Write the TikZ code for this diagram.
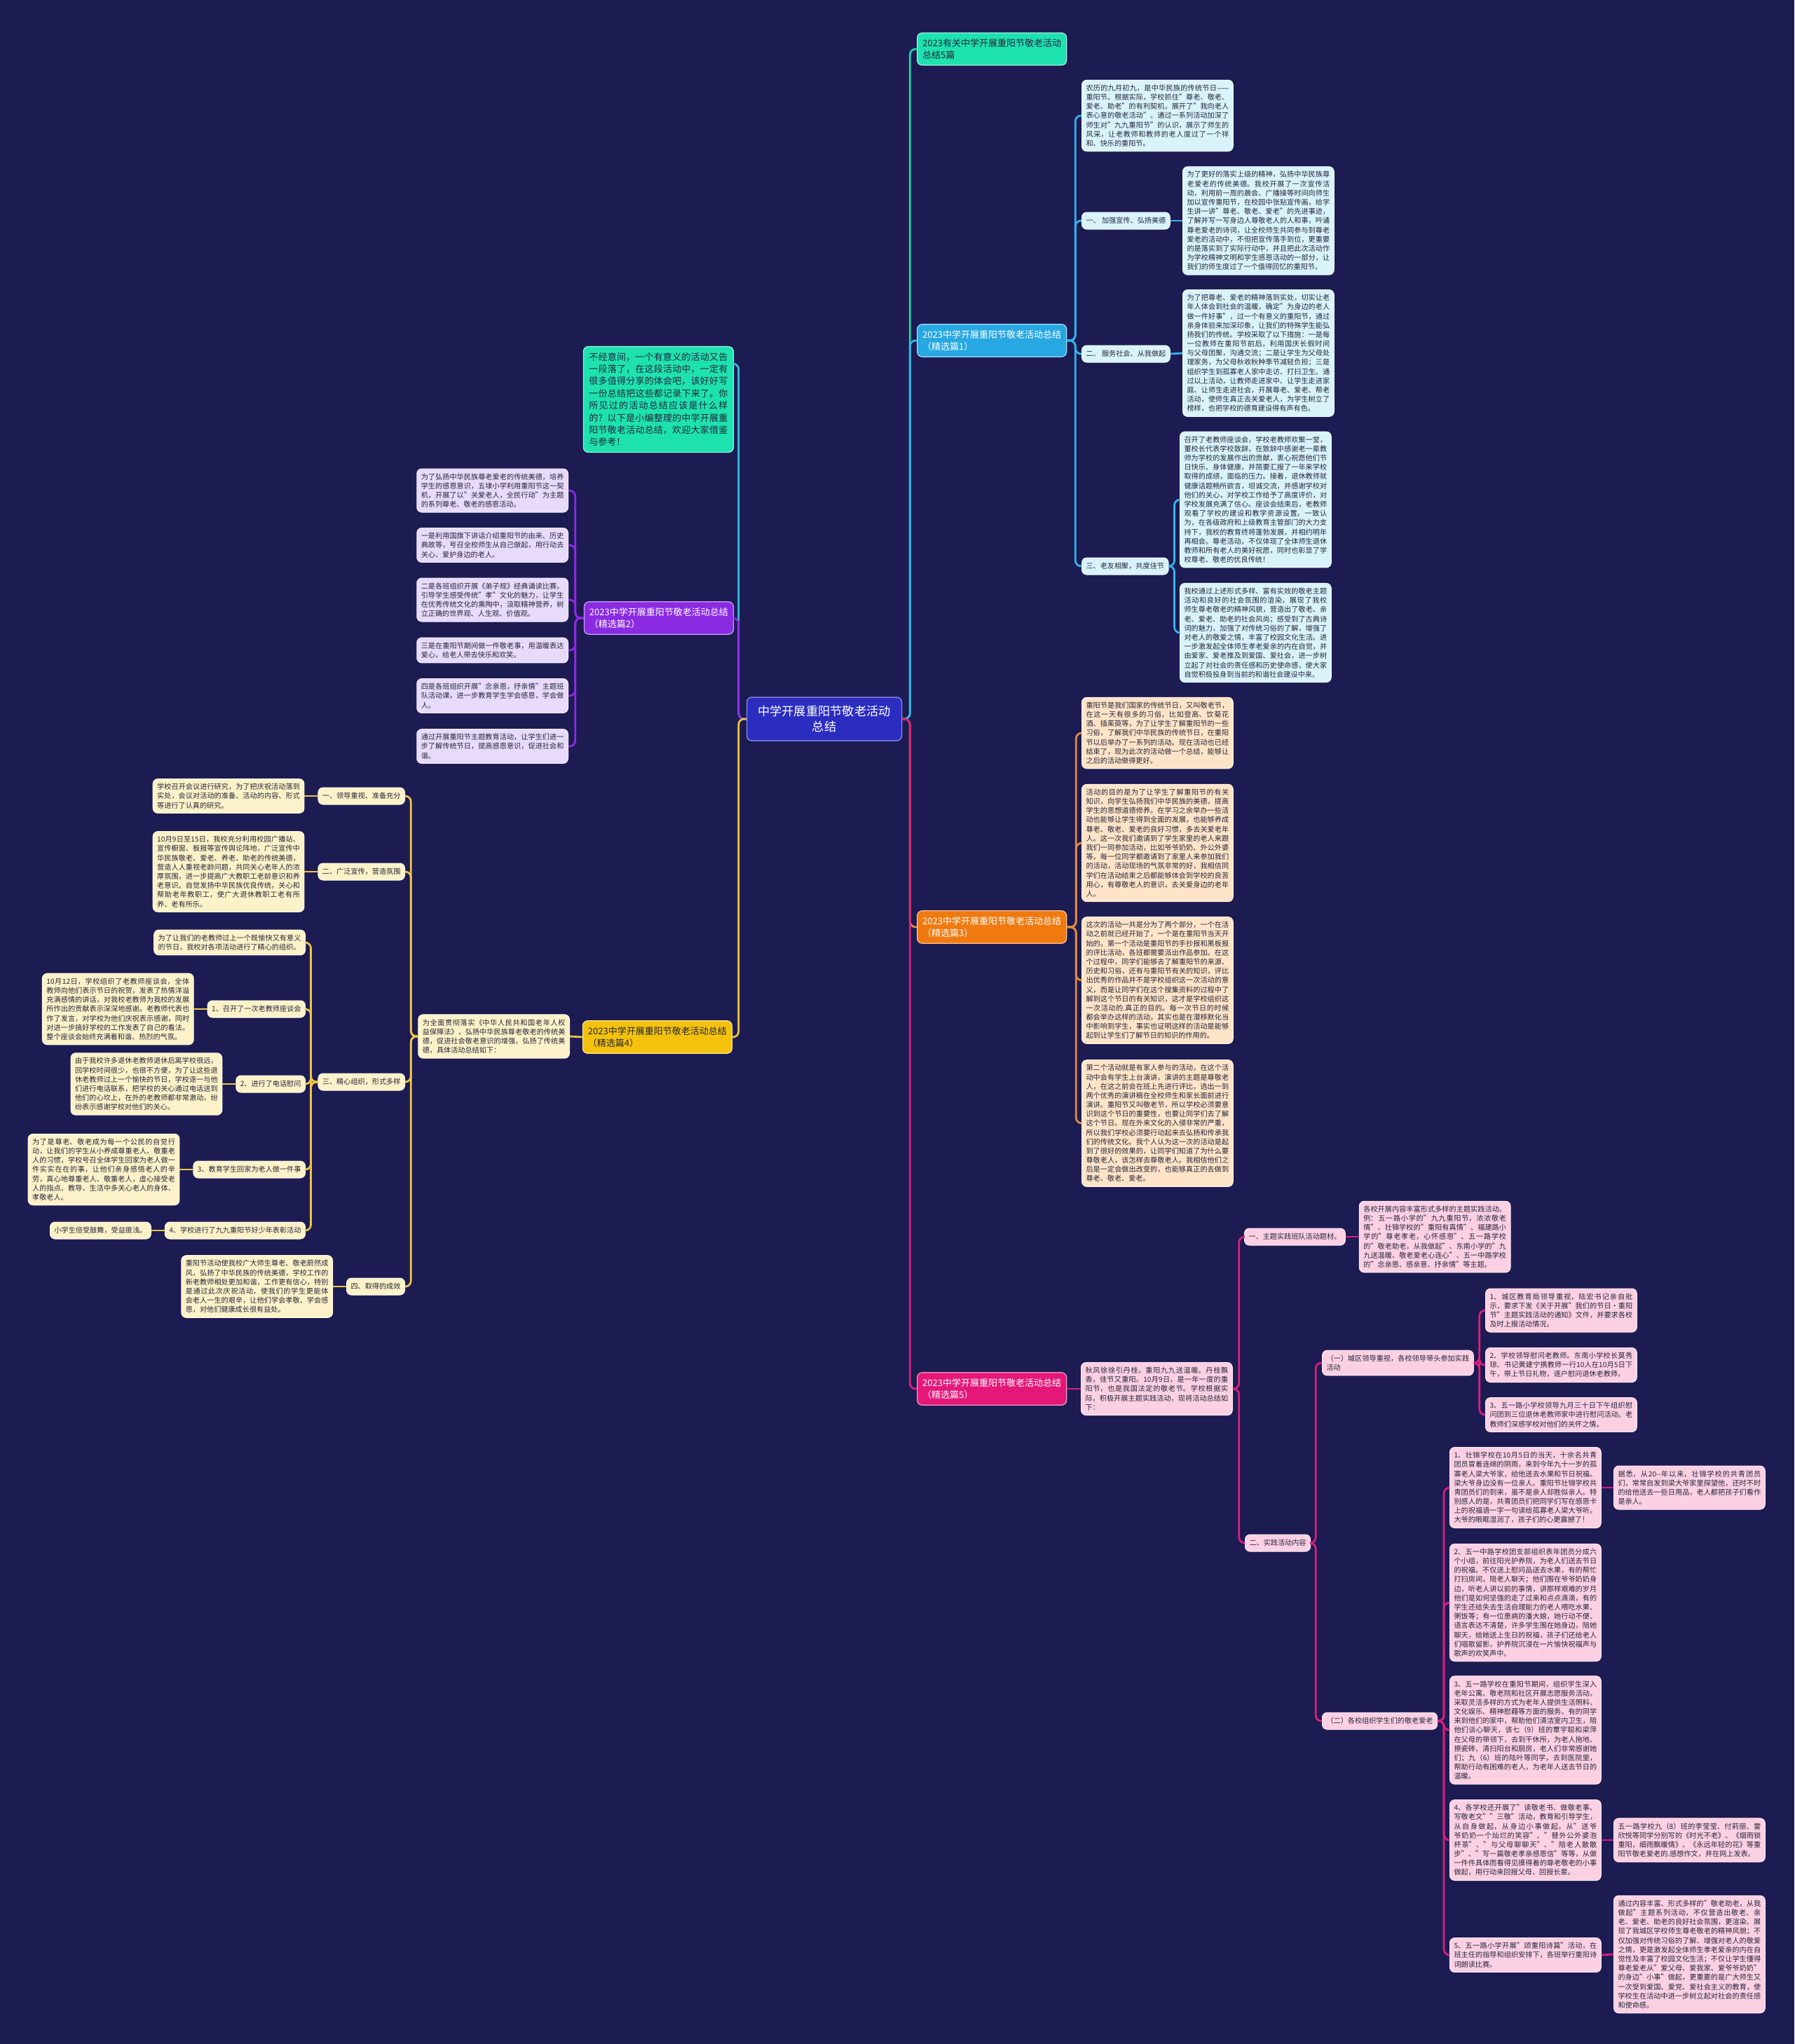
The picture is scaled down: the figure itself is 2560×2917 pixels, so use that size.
\documentclass[tikz,border=0pt]{standalone}
\usepackage{fontspec}
\setmainfont{Noto Sans CJK SC}
\XeTeXlinebreaklocale "zh"
\XeTeXlinebreakskip = 0pt plus 1pt
\usetikzlibrary{positioning}

\definecolor{bgnavy}{HTML}{1C1B52}
\definecolor{rootblue}{HTML}{2B2DC0}
\definecolor{tealA}{HTML}{1DE2B0}
\definecolor{cyanB}{HTML}{27A8E2}
\definecolor{purpB}{HTML}{8A2BE2}
\definecolor{orngB}{HTML}{F07A10}
\definecolor{yellB}{HTML}{F4C20D}
\definecolor{pinkB}{HTML}{E5187A}
\definecolor{lineT}{HTML}{1DD6A6}
\definecolor{lineI}{HTML}{2EC4DC}
\definecolor{lineC}{HTML}{33B5EC}
\definecolor{lineO}{HTML}{E38A40}
\definecolor{lineY}{HTML}{EDC545}
\definecolor{lineP}{HTML}{DA1F7D}
\definecolor{cyanL}{HTML}{D9F3FB}
\definecolor{purpL}{HTML}{E7DAFA}
\definecolor{orngL}{HTML}{FDE4C8}
\definecolor{yellL}{HTML}{FCF2C9}
\definecolor{pinkL}{HTML}{FBD0E3}
\definecolor{inkdark}{HTML}{26263A}

\newcommand\leaffont{\fontsize{5.77pt}{7.5pt}\selectfont}
\newcommand\hubfont{\fontsize{7.4pt}{9.7pt}\selectfont}
\newcommand\introfont{\fontsize{7.4pt}{9.9pt}\selectfont}
\newcommand\rootfont{\fontsize{9.8pt}{12.5pt}\selectfont}

\begin{document}
\begin{tikzpicture}[x=0.2mm,y=-0.2mm,
  leafbox/.style={fill=#1, draw=white!60!#1, line width=0.2mm, rounded corners=1.4mm,
    inner xsep=1.2mm, inner ysep=1.3mm, text width=40.75mm, align=justify,
    font=\leaffont, text=inkdark},
  tagbox/.style={fill=#1, draw=white!60!#1, line width=0.2mm, rounded corners=1.4mm,
    inner xsep=1.2mm, inner ysep=0.8mm, minimum height=4.8mm, font=\leaffont, text=inkdark},
  hubbox/.style={fill=#1, draw=white!55!#1, line width=0.25mm, rounded corners=1.4mm,
    inner xsep=1.4mm, inner ysep=1.7mm, minimum width=42.6mm, align=left,
    font=\hubfont, text=white},
  introbox/.style={fill=tealA, draw=white!55!tealA, line width=0.25mm, rounded corners=1.4mm,
    inner xsep=1.6mm, inner ysep=1.7mm, text width=39.6mm, align=justify,
    font=\introfont, text=inkdark},
  rootbox/.style={fill=rootblue, draw=white!40!rootblue, line width=0.3mm, rounded corners=1.4mm,
    minimum width=44.2mm, minimum height=12.4mm, align=center, font=\rootfont, text=white},
  wire/.style={draw=#1, line width=0.55mm, rounded corners=1.6mm},
]
\useasboundingbox (0,0) rectangle (2560,2917);
\fill[bgnavy] (0,0) rectangle (2560,2917);

% centre and main branches
\node[rootbox] (root) at (1176,1026) {中学开展重阳节敬老活动\\总结};
\node[hubbox=tealA, text=inkdark, anchor=west] (b0) at (1308,70) {2023有关中学开展重阳节敬老活动\\总结5篇};
\node[hubbox=cyanB, anchor=west] (b1) at (1308,486) {2023中学开展重阳节敬老活动总结\\（精选篇1）};
\node[hubbox=orngB, anchor=west] (b3) at (1308,1323) {2023中学开展重阳节敬老活动总结\\（精选篇3）};
\node[hubbox=pinkB, anchor=west] (b5) at (1308,1982) {2023中学开展重阳节敬老活动总结\\（精选篇5）};
\node[introbox, anchor=east] (intro) at (1047,570) {不经意间，一个有意义的活动又告一段落了，在这段活动中，一定有很多值得分享的体会吧，该好好写一份总结把这些都记录下来了。你所见过的活动总结应该是什么样的？以下是小编整理的中学开展重阳节敬老活动总结，欢迎大家借鉴与参考！};
\coordinate (introIn) at (1047,519);
\node[hubbox=purpB, anchor=east] (b2) at (1047,882) {2023中学开展重阳节敬老活动总结\\（精选篇2）};
\node[hubbox=yellB, text=inkdark, anchor=east] (b4) at (1045,1480) {2023中学开展重阳节敬老活动总结\\（精选篇4）};

\draw[wire=lineT] (root.east) -- ++(11,0) |- (b0.west);
\draw[wire=lineC] (root.east) -- ++(11,0) |- (b1.west);
\draw[wire=lineO] (root.east) -- ++(11,0) |- (b3.west);
\draw[wire=lineP] (root.east) -- ++(11,0) |- (b5.west);
\draw[wire=lineI] (root.west) -- ++(-11,0) |- (introIn);
\draw[wire=purpB] (root.west) -- ++(-11,0) |- (b2.east);
\draw[wire=lineY] (root.west) -- ++(-11,0) |- (b4.east);

% branch 1
\node[leafbox=cyanL, anchor=west] (b1a) at (1543,165) {农历的九月初九，是中华民族的传统节日——重阳节。根据实际，学校抓住"尊老、敬老、爱老、助老"的有利契机，展开了"我向老人表心意的敬老活动"。通过一系列活动加深了师生对"九九重阳节"的认识，展示了师生的风采，让老教师和教师的老人度过了一个祥和、快乐的重阳节。};
\node[tagbox=cyanL, anchor=west] (s1l) at (1543,315) {一、 加强宣传、弘扬美德};
\node[leafbox=cyanL, anchor=west] (s1t) at (1687,315) {为了更好的落实上级的精神，弘扬中华民族尊老爱老的传统美德。我校开展了一次宣传活动，利用前一周的晨会、广播操等时间向师生加以宣传重阳节，在校园中张贴宣传画，给学生讲一讲"尊老、敬老、爱老"的先进事迹，了解并写一写身边人尊敬老人的人和事，吟诵尊老爱老的诗词，让全校师生共同参与到尊老爱老的活动中，不但把宣传落手到位，更重要的是落实到了实际行动中，并且把此次活动作为学校精神文明和学生感恩活动的一部分，让我们的师生度过了一个值得回忆的重阳节。};
\node[tagbox=cyanL, anchor=west] (s2l) at (1543,505) {二、 服务社会、从我做起};
\node[leafbox=cyanL, anchor=west] (s2t) at (1687,504) {为了把尊老、爱老的精神落到实处，切实让老年人体会到社会的温暖，确定"为身边的老人做一件好事"，过一个有意义的重阳节，通过亲身体验来加深印象，让我们的特殊学生能弘扬我们的传统。学校采取了以下措施：一是每一位教师在重阳节前后，利用国庆长假时间与父母团聚，沟通交流；二是让学生为父母处理家务，为父母秋收秋种季节减轻负担；三是组织学生到孤寡老人家中走访、打扫卫生。通过以上活动，让教师走进家中、让学生走进家庭、让师生走进社会，开展尊老、爱老、帮老活动，使师生真正去关爱老人，为学生树立了榜样，也把学校的德育建设得有声有色。};
\node[tagbox=cyanL, anchor=west] (s3l) at (1543,808) {三、老友相聚，共度佳节};
\node[leafbox=cyanL, anchor=west] (s3a) at (1683,713) {召开了老教师座谈会，学校老教师欢聚一堂，董校长代表学校致辞，在致辞中感谢老一辈教师为学校的发展作出的贡献，衷心祝愿他们节日快乐、身体健康，并简要汇报了一年来学校取得的成绩，面临的压力。接着，退休教师就健康话题畅所欲言，坦诚交流，并感谢学校对他们的关心，对学校工作给予了高度评价，对学校发展充满了信心。座谈会结束后，老教师观看了学校的建设和教学资源设置。一致认为，在各级政府和上级教育主管部门的大力支持下，我校的教育终将蓬勃发展，并相约明年再相会。尊老活动，不仅体现了全体师生退休教师和所有老人的美好祝愿，同时也彰显了学校尊老、敬老的优良传统！};
\node[leafbox=cyanL, anchor=west] (s3b) at (1683,903) {我校通过上述形式多样、富有实效的敬老主题活动和良好的社会氛围的渲染，展现了我校师生尊老敬老的精神风貌，营造出了敬老、亲老、爱老、助老的社会风尚；感受到了古典诗词的魅力，加强了对传统习俗的了解，增强了对老人的敬爱之情，丰富了校园文化生活。进一步激发起全体师生孝老爱亲的内在自觉，并由爱家、爱老推及到爱国、爱社会，进一步树立起了对社会的责任感和历史使命感，使大家自觉积极投身到当前的和谐社会建设中来。};
\foreach \c in {b1a,s1l,s2l,s3l} \draw[wire=lineC] (b1.east) -- ++(12,0) |- (\c.west);
\draw[wire=lineC] (s1l.east) -- (s1t.west);
\draw[wire=lineC] (s2l.east) -- (s2t.west);
\foreach \c in {s3a,s3b} \draw[wire=lineC] (s3l.east) -- ++(8,0) |- (\c.west);

% branch 3
\node[leafbox=orngL, anchor=west] (c3a) at (1543,1046) {重阳节是我们国家的传统节日，又叫敬老节，在这一天有很多的习俗，比如登高、饮菊花酒、插茱萸等，为了让学生了解重阳节的一些习俗，了解我们中华民族的传统节日，在重阳节以后举办了一系列的活动。现在活动也已经结束了，现为此次的活动做一个总结，能够让之后的活动做得更好。};
\node[leafbox=orngL, anchor=west] (c3b) at (1543,1203) {活动的目的是为了让学生了解重阳节的有关知识，向学生弘扬我们中华民族的美德，提高学生的思想道德修养。在学习之余举办一些活动也能够让学生得到全面的发展，也能够养成尊老、敬老、爱老的良好习惯，多去关爱老年人。这一次我们邀请到了学生家里的老人来跟我们一同参加活动，比如爷爷奶奶、外公外婆等。每一位同学都邀请到了家里人来参加我们的活动，活动现场的气氛非常的好，我相信同学们在活动结束之后都能够体会到学校的良苦用心，有尊敬老人的意识，去关爱身边的老年人。};
\node[leafbox=orngL, anchor=west] (c3c) at (1543,1399) {这次的活动一共是分为了两个部分，一个在活动之前就已经开始了，一个是在重阳节当天开始的。第一个活动是重阳节的手抄报和黑板报的评比活动，各班都需要派出作品参加。在这个过程中，同学们能够去了解重阳节的来源、历史和习俗，还有与重阳节有关的知识，评比出优秀的作品并不是学校组织这一次活动的意义，而是让同学们在这个搜集资料的过程中了解到这个节日的有关知识，这才是学校组织这一次活动的.真正的目的。每一次节日的时候都会举办这样的活动，其实也是在潜移默化当中影响到学生，事实也证明这样的活动是能够起到让学生们了解节日的知识的作用的。};
\node[leafbox=orngL, anchor=west] (c3d) at (1543,1603) {第二个活动就是有家人参与的活动，在这个活动中会有学生上台演讲，演讲的主题是尊敬老人，在这之前会在班上先进行评比，选出一到两个优秀的演讲稿在全校师生和家长面前进行演讲。重阳节又叫敬老节，所以学校必须要意识到这个节日的重要性，也要让同学们去了解这个节日。现在外来文化的入侵非常的严重，所以我们学校必须要行动起来去弘扬和传承我们的传统文化。我个人认为这一次的活动是起到了很好的效果的，让同学们知道了为什么要尊敬老人，该怎样去尊敬老人。我相信他们之后是一定会做出改变的，也能够真正的去做到尊老、敬老、爱老。};
\foreach \c in {c3a,c3b,c3c,c3d} \draw[wire=lineO] (b3.east) -- ++(13,0) |- (\c.west);

% branch 2
\node[leafbox=purpL, anchor=east] (e2a) at (811,700) {为了弘扬中华民族尊老爱老的传统美德，培养学生的感恩意识，五埭小学利用重阳节这一契机，开展了以"关爱老人，全民行动"为主题的系列尊老、敬老的感恩活动。};
\node[leafbox=purpL, anchor=east] (e2b) at (811,778) {一是利用国旗下讲话介绍重阳节的由来、历史典故等，号召全校师生从自己做起，用行动去关心、爱护身边的老人。};
\node[leafbox=purpL, anchor=east] (e2c) at (811,856) {二是各班组织开展《弟子规》经典诵读比赛。引导学生感受传统"孝"文化的魅力，让学生在优秀传统文化的熏陶中，汲取精神营养，树立正确的世界观、人生观、价值观。};
\node[leafbox=purpL, anchor=east] (e2d) at (811,928) {三是在重阳节期间做一件敬老事，用温暖表达爱心，给老人带去快乐和欢笑。};
\node[leafbox=purpL, anchor=east] (e2e) at (811,993) {四是各班组织开展"念亲恩，抒亲情"主题班队活动课，进一步教育学生学会感恩，学会做人。};
\node[leafbox=purpL, anchor=east] (e2f) at (811,1065) {通过开展重阳节主题教育活动，让学生们进一步了解传统节日，提高感恩意识，促进社会和谐。};
\foreach \c in {e2a,e2b,e2c,e2d,e2e,e2f} \draw[wire=purpB] (b2.west) -- ++(-12,0) |- (\c.east);

% branch 4
\node[leafbox=yellL, anchor=east] (f4) at (813,1479) {为全面贯彻落实《中华人民共和国老年人权益保障法》，弘扬中华民族尊老敬老的传统美德，促进社会敬老意识的增强，弘扬了传统美德，具体活动总结如下：};
\node[tagbox=yellL, anchor=east] (f4a) at (578,1136) {一、领导重视、准备充分};
\node[leafbox=yellL, left=3.8mm of f4a] (f4at) {学校召开会议进行研究，为了把庆祝活动落到实处，会议对活动的准备、活动的内容、形式等进行了认真的研究。};
\node[tagbox=yellL, anchor=east] (f4b) at (578,1244) {二、广泛宣传，营造氛围};
\node[leafbox=yellL, left=3.8mm of f4b] (f4bt) {10月9日至15日，我校充分利用校园广播站、宣传橱窗、板报等宣传舆论阵地，广泛宣传中华民族敬老、爱老、养老、助老的传统美德，营造人人重视老龄问题，共同关心老年人的浓厚氛围，进一步提高广大教职工老龄意识和养老意识。自觉发扬中华民族优良传统，关心和帮助老年教职工，使广大退休教职工老有所养、老有所乐。};
\node[tagbox=yellL, anchor=east] (f4c) at (578,1544) {三、精心组织，形式多样};
\node[tagbox=yellL, anchor=east] (f4d) at (578,1836) {四、取得的成效};
\node[leafbox=yellL, left=3.8mm of f4d] (f4dt) {重阳节活动使我校广大师生尊老、敬老蔚然成风，弘扬了中华民族的传统美德，学校工作的新老教师相处更加和谐，工作更有信心，特别是通过此次庆祝活动，使我们的学生更能体会老人一生的艰辛，让他们学会孝敬、学会感恩，对他们健康成长很有益处。};
\node[leafbox=yellL, anchor=east] (g0) at (436,1345) {为了让我们的老教师过上一个既愉快又有意义的节日，我校对各项活动进行了精心的组织。};
\node[tagbox=yellL, anchor=east] (g1) at (436,1440) {1、召开了一次老教师座谈会};
\node[leafbox=yellL, left=3.8mm of g1] (g1t) {10月12日，学校组织了老教师座谈会，全体教师向他们表示节日的祝贺，发表了热情洋溢充满感情的讲话，对我校老教师为我校的发展所作出的贡献表示深深地感谢。老教师代表也作了发言，对学校为他们庆祝表示感谢，同时对进一步搞好学校的工作发表了自己的看法。整个座谈会始终充满着和谐、热烈的气氛。};
\node[tagbox=yellL, anchor=east] (g2) at (436,1547) {2、进行了电话慰问};
\node[leafbox=yellL, left=3.8mm of g2] (g2t) {由于我校许多退休老教师退休后离学校很远，回学校时间很少，也很不方便，为了让这些退休老教师过上一个愉快的节日，学校逐一与他们进行电话联系，把学校的关心通过电话送到他们的心坎上，在外的老教师都非常激动，纷纷表示感谢学校对他们的关心。};
\node[tagbox=yellL, anchor=east] (g3) at (436,1669) {3、教育学生回家为老人做一件事};
\node[leafbox=yellL, left=3.8mm of g3] (g3t) {为了是尊老、敬老成为每一个公民的自觉行动，让我们的学生从小养成尊重老人、敬重老人的习惯，学校号召全体学生回家为老人做一件实实在在的事，让他们亲身感悟老人的辛劳，真心地尊重老人、敬重老人，虚心接受老人的指点、教导，生活中多关心老人的身体、孝敬老人。};
\node[tagbox=yellL, anchor=east] (g4) at (436,1756) {4、学校进行了九九重阳节好少年表彰活动};
\node[tagbox=yellL, left=3.8mm of g4] (g4t) {小学生倍受鼓舞，受益匪浅。};
\draw[wire=lineY] (b4.west) -- (f4.east);
\foreach \c in {f4a,f4b,f4c,f4d} \draw[wire=lineY] (f4.west) -- ++(-10,0) |- (\c.east);
\foreach \c in {f4a,f4b,f4d} \draw[wire=lineY] (\c.west) -- (\c t.east);
\foreach \c in {g0,g1,g2,g3,g4} \draw[wire=lineY] (f4c.west) -- ++(-10,0) |- (\c.east);
\foreach \c in {g1,g2,g3,g4} \draw[wire=lineY] (\c.west) -- (\c t.east);

% branch 5
\node[leafbox=pinkL, anchor=west] (p0) at (1542,1982) {秋风徐徐引丹桂，重阳九九送温暖。丹桂飘香，佳节又重阳。10月9日，是一年一度的重阳节，也是我国法定的敬老节。学校根据实际，积极开展主题实践活动，现将活动总结如下：};
\node[tagbox=pinkL, anchor=west] (p1) at (1775,1765) {一、主题实践班队活动题材。};
\node[leafbox=pinkL, right=3.8mm of p1] (p1t) {各校开展内容丰富形式多样的主题实践活动。例：五一路小学的"九九重阳节，浓浓敬老情"、壮锦学校的"重阳有真情"、福建路小学的"尊老孝老，心怀感恩"、五一路学校的"敬老助老，从我做起"、东南小学的"九九送温暖、敬老爱老心连心"、五一中路学校的"念亲恩、感亲意、抒亲情"等主题。};
\node[tagbox=pinkL, anchor=west] (p2) at (1776,2202) {二、实践活动内容};
\node[leafbox=pinkL, anchor=west] (q1) at (1886,1945) {（一）城区领导重视，各校领导带头参加实践活动};
\node[tagbox=pinkL, anchor=west] (q2) at (1886,2456) {（二）各校组织学生们的敬老爱老};
\node[leafbox=pinkL, anchor=west] (q1a) at (2119,1870) {1、城区教育局领导重视，陆宏书记亲自批示，要求下发《关于开展"我们的节日·重阳节"主题实践活动的通知》文件，并要求各校及时上报活动情况。};
\node[leafbox=pinkL, anchor=west] (q1b) at (2119,1948) {2、学校领导慰问老教师。东南小学校长莫秀琼、书记黄建宁携教师一行10人在10月5日下午，带上节日礼物，逐户慰问退休老教师。};
\node[leafbox=pinkL, anchor=west] (q1c) at (2119,2019) {3、五一路小学校领导九月三十日下午组织慰问团到三位退休老教师家中进行慰问活动。老教师们深感学校对他们的关怀之情。};
\node[leafbox=pinkL, anchor=west] (q2a) at (2068,2123) {1、壮锦学校在10月5日的当天，十余名共青团员冒着连绵的阴雨，来到今年九十一岁的孤寡老人梁大爷家，给他送去水果和节日祝福。梁大爷身边没有一位亲人。重阳节壮锦学校共青团员们的到来，虽不是亲人却胜似亲人。特别感人的是，共青团员们把同学们写在感恩卡上的祝福语一字一句读给孤寡老人梁大爷听。大爷的眼眶湿润了，孩子们的心更震撼了！};
\node[leafbox=pinkL, anchor=west] (q2at) at (2302,2123) {据悉，从20-{}-年以来，壮锦学校的共青团员们，常常自发到梁大爷家里探望他，还时不时的给他送去一些日用品，老人都把孩子们看作是亲人。};
\node[leafbox=pinkL, anchor=west] (q2b) at (2068,2287) {2、五一中路学校团支部组织表年团员分成六个小组，前往阳光护养院，为老人们送去节日的祝福。不仅送上慰问品送去水果，有的帮忙打扫房间，陪老人聊天；他们围在爷爷奶奶身边，听老人讲以前的事情，讲那样艰难的岁月他们是如何坚强的走了过来和点点滴滴，有的学生还给失去生活自理能力的老人喂吃水果、粥饭等；有一位患病的潘大娘，她行动不便、语言表达不清楚，许多学生围在她身边，陪她聊天，给她送上生日的祝福，孩子们还给老人们唱歌留影，护养院沉浸在一片愉快祝福声与歌声的欢笑声中。};
\node[leafbox=pinkL, anchor=west] (q2c) at (2068,2469) {3、五一路学校在重阳节期间，组织学生深入老年公寓、敬老院和社区开展志愿服务活动。采取灵活多样的方式为老年人提供生活照料、文化娱乐、精神慰藉等方面的服务。有的同学来到他们的家中，帮助他们清洁室内卫生，陪他们谈心聊天，该七（9）班的覃宇聪和梁萍在父母的带领下，去到干休所，为老人拖地、擦瓷砖、清扫阳台和厨房，老人们非常感谢她们；九（6）班的陆叶等同学，去到医院里，帮助行动有困难的老人，为老年人送去节日的温暖。};
\node[leafbox=pinkL, anchor=west] (q2d) at (2068,2626) {4、各学校还开展了"读敬老书、做敬老事、写敬老文""三敬"活动，教育和引导学生，从自身做起，从身边小事做起，从"送爷爷奶奶一个灿烂的笑容"、"替外公外婆泡杯茶"、"与父母聊聊天"、"陪老人散散步"、"写一篇敬老孝亲感恩信"等等，从做一件件具体而看得见摸得着的尊老敬老的小事做起，用行动来回报父母、回报长辈。};
\node[leafbox=pinkL, anchor=west] (q2dt) at (2302,2626) {五一路学校九（8）班的李莹莹、付莉丽、雷欣悦等同学分别写的《时光不老》、《烟雨锁重阳，细雨飘暖情》、《永远年轻的花》等重阳节敬老爱老的.感想作文，并在网上发表。};
\node[leafbox=pinkL, anchor=west] (q2e) at (2068,2790) {5、五一路小学开展"颂重阳诗篇"活动，在班主任的指导和组织安排下，各班举行重阳诗词朗读比赛。};
\node[leafbox=pinkL, anchor=west] (q2et) at (2302,2789) {通过内容丰富、形式多样的"敬老助老，从我做起"主题系列活动，不仅营造出敬老、亲老、爱老、助老的良好社会氛围，更渲染、展现了我城区学校师生尊老敬老的精神风貌；不仅加强对传统习俗的了解、增强对老人的敬爱之情，更是激发起全体师生孝老爱亲的内在自觉性及丰富了校园文化生活；不仅让学生懂得尊老爱老从"爱父母、爱我家、爱爷爷奶奶"的身边"小事"做起，更重要的是广大师生又一次受到爱国、爱党、爱社会主义的教育，使学校生在活动中进一步树立起对社会的责任感和使命感。};
\draw[wire=lineP] (b5.east) -- (p0.west);
\foreach \c in {p1,p2} \draw[wire=lineP] (p0.east) -- ++(9,0) |- (\c.west);
\draw[wire=lineP] (p1.east) -- (p1t.west);
\foreach \c in {q1,q2} \draw[wire=lineP] (p2.east) -- ++(7,0) |- (\c.west);
\foreach \c in {q1a,q1b,q1c} \draw[wire=lineP] (q1.east) -- ++(8,0) |- (\c.west);
\foreach \c in {q2a,q2b,q2c,q2d,q2e} \draw[wire=lineP] (q2.east) -- ++(9,0) |- (\c.west);
\foreach \c in {q2a,q2d,q2e} \draw[wire=lineP] (\c.east) -- (\c t.west);
\end{tikzpicture}
\end{document}
